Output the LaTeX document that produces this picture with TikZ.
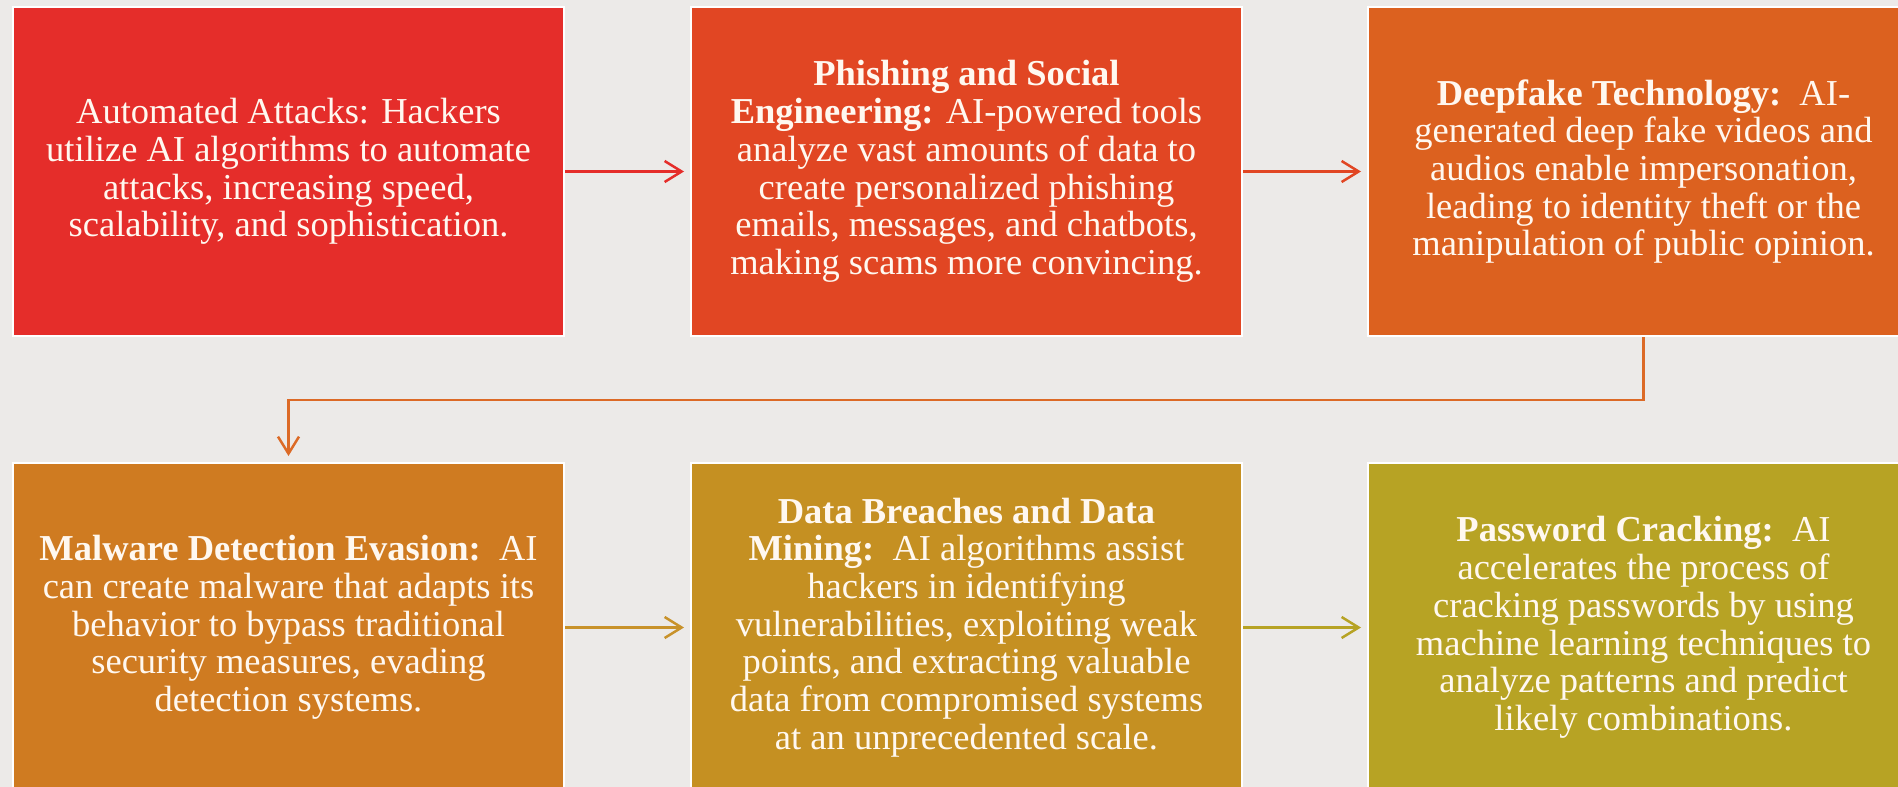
\documentclass[tikz,border=0pt]{standalone}
\usepackage{fontspec}
\setmainfont{Liberation Serif}
\usetikzlibrary{arrows.meta}
\definecolor{bg}{HTML}{ECEAE8}
\definecolor{cA}{HTML}{E52D2A}
\definecolor{cB}{HTML}{E14623}
\definecolor{cC}{HTML}{DC611F}
\definecolor{cD}{HTML}{CF7B21}
\definecolor{cE}{HTML}{C59022}
\definecolor{cF}{HTML}{B7A324}
\definecolor{lC}{HTML}{DC6A26}
\definecolor{lE}{HTML}{C8922A}
\definecolor{txt}{HTML}{FFF8F0}
\begin{document}
\begin{tikzpicture}[x=1pt,y=-1pt,
  box/.style={draw=white, line width=2pt, minimum width=551pt, minimum height=329pt,
    inner sep=0pt, anchor=north west, text=txt, align=center,
    font=\fontsize{36.5}{37.7}\selectfont},
  conn/.style={line width=2.5pt, shorten >=6pt,
    -{Straight Barb[length=17pt,width=21pt,line width=2.5pt]}}]
\clip (0,0) rectangle (1898,787);
\fill[bg] (0,0) rectangle (1898,787);
\node[box, fill=cA] (b1) at (12,6) {Automated Attacks: Hackers\\utilize AI algorithms to automate\\attacks, increasing speed,\\scalability, and sophistication.};
\node[box, fill=cB] (b2) at (690,6) {\textbf{Phishing and Social}\\\textbf{Engineering:} AI-powered tools\\analyze vast amounts of data to\\create personalized phishing\\emails, messages, and chatbots,\\making scams more convincing.};
\node[box, fill=cC] (b3) at (1367,6) {\textbf{Deepfake Technology:}\enspace AI-\\generated deep fake videos and\\audios enable impersonation,\\leading to identity theft or the\\manipulation of public opinion.};
\node[box, fill=cD] (b4) at (12,462) {\textbf{Malware Detection Evasion:}\enspace AI\\can create malware that adapts its\\behavior to bypass traditional\\security measures, evading\\detection systems.};
\node[box, fill=cE] (b5) at (690,462) {\textbf{Data Breaches and Data}\\\textbf{Mining:}\enspace AI algorithms assist\\hackers in identifying\\vulnerabilities, exploiting weak\\points, and extracting valuable\\data from compromised systems\\at an unprecedented scale.};
\node[box, fill=cF] (b6) at (1367,462) {\textbf{Password Cracking:}\enspace AI\\accelerates the process of\\cracking passwords by using\\machine learning techniques to\\analyze patterns and predict\\likely combinations.};
\draw[conn, cA] (b1.east) -- (b2.west);
\draw[conn, cB] (b2.east) -- (b3.west);
\draw[conn, lC] (b3.south) -- ++(0,63) -| (b4.north);
\draw[conn, lE] (b4.east) -- (b5.west);
\draw[conn, cF] (b5.east) -- (b6.west);
\end{tikzpicture}
\end{document}
